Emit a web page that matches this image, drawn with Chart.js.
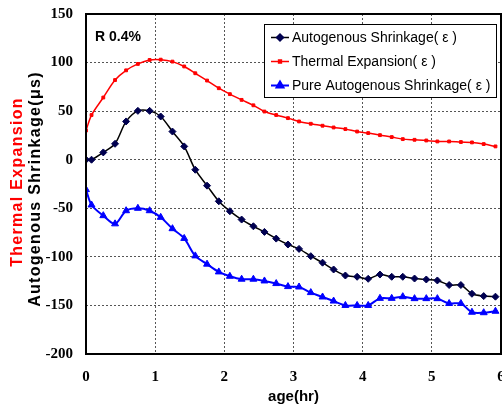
<!DOCTYPE html>
<html><head><meta charset="utf-8">
<script src="https://cdn.jsdelivr.net/npm/chart.js@4.4.1/dist/chart.umd.min.js"></script>
<style>html,body{margin:0;padding:0;background:#fff;overflow:hidden}#wrap{width:502px;height:410px}</style>
</head><body><div id="wrap"><canvas id="c" width="502" height="410"></canvas></div>
<script>
const ages = [0, 0.08, 0.25, 0.42, 0.58, 0.75, 0.92, 1.08, 1.25, 1.42, 1.58, 1.75, 1.92, 2.08, 2.25, 2.42, 2.58, 2.75, 2.92, 3.08, 3.25, 3.42, 3.58, 3.75, 3.92, 4.08, 4.25, 4.42, 4.58, 4.75, 4.92, 5.08, 5.25, 5.42, 5.58, 5.75, 5.92];
const autogenous = [0, 0, 7.5, 16.4, 39.4, 50.3, 50.3, 44.5, 29, 13.7, -10.3, -26.7, -42.8, -53, -61.6, -68.5, -74.3, -81.2, -87.3, -91.8, -99.3, -106, -113, -119.2, -120.5, -122.6, -118.2, -120.5, -120.5, -122.3, -123.3, -124.3, -129, -129, -138, -140.4, -141];
const thermal = [30, 46, 64, 82, 92, 98.6, 102.7, 103, 101, 96, 89, 81.5, 73.6, 67.5, 61.6, 56, 49.6, 46, 42.8, 39.4, 37, 35, 33.2, 31.5, 29, 27.4, 25.3, 23.3, 21.2, 20.5, 19.8, 18.8, 18.8, 18.2, 17.8, 16.1, 13.7];
const pure = [-30.8, -46.6, -57.6, -66, -52.5, -50, -52.5, -59.3, -71, -81, -99, -107.5, -115.5, -120, -123, -123, -124.8, -127.5, -130.6, -131, -136.8, -141.3, -145.5, -150, -150, -150, -142.7, -142.7, -141, -143, -143, -143, -148, -148, -157, -157.5, -156];
const xTicks = [0, 1, 2, 3, 4, 5, 6];
const yTicks = [-200, -150, -100, -50, 0, 50, 100, 150];
const seriesLabels = ['Autogenous Shrinkage( \u03B5 )', 'Thermal Expansion( \u03B5 )', 'Pure Autogenous Shrinkage( \u03B5 )'];
const yTitleRed = 'Thermal Expansion';
const yTitleBlack = 'Autogenous Shrinkage(\u03BCs)';
const xTitle = 'age(hr)';
const note = 'R 0.4%';

const toPts = arr => ages.map((x, i) => ({x: x, y: arr[i]}));
const tickFont = {family: "'Liberation Sans Narrow', 'Liberation Serif', serif", size: 15, weight: 'bold'};

const styles = [
  {line: '#000000', point: '#000050', style: 'rectRot', r: 3.5, w: 1.5},
  {line: '#ff0000', point: '#ff0000', style: 'rect', r: 2, w: 1.5},
  {line: '#0000ff', point: '#0000ff', style: 'triangle', r: 4, w: 2}
];
const series = [autogenous, thermal, pure];

const decor = {
  id: 'decor',
  afterDatasetsDraw(chart) {
    const ctx = chart.ctx, a = chart.chartArea;
    ctx.save();
    ctx.strokeStyle = '#000'; ctx.lineWidth = 2; ctx.setLineDash([]);
    ctx.strokeRect(a.left, a.top, a.right - a.left, a.bottom - a.top);
    ctx.fillStyle = '#000';
    ctx.font = "bold 14px 'Liberation Sans', Arial, sans-serif";
    ctx.textAlign = 'left'; ctx.textBaseline = 'middle';
    ctx.fillText(note, 95, 37);
    const bx = 264, by = 24, bw = 232, bh = 73;
    ctx.fillStyle = '#fff'; ctx.fillRect(bx, by, bw, bh);
    ctx.strokeStyle = '#000'; ctx.lineWidth = 1;
    ctx.strokeRect(bx + 0.5, by + 0.5, bw, bh);
    const rows = [37.5, 61.5, 85.5];
    chart.data.datasets.forEach((ds, i) => {
      const y = rows[i];
      const s = styles[i];
      ctx.strokeStyle = s.line; ctx.lineWidth = s.w;
      ctx.beginPath(); ctx.moveTo(271, y); ctx.lineTo(289, y); ctx.stroke();
      ctx.fillStyle = s.point; ctx.strokeStyle = s.point;
      Chart.helpers.drawPoint(ctx, {pointStyle: s.style, radius: s.r, borderWidth: 1, rotation: 0}, 280, y);
      ctx.fillStyle = '#000';
      ctx.font = "14px 'Liberation Sans', Arial, sans-serif";
      ctx.textAlign = 'left'; ctx.textBaseline = 'middle';
      ctx.fillText(ds.label, 292, y + 1);
    });
    const cy = (a.top + a.bottom) / 2;
    ctx.font = "bold 16px 'Liberation Sans', Arial, sans-serif";
    ctx.textAlign = 'center'; ctx.textBaseline = 'middle';
    ctx.save(); ctx.translate(18, cy - 2); ctx.rotate(-Math.PI / 2);
    ctx.letterSpacing = '1.3px';
    ctx.fillStyle = '#ff0000'; ctx.fillText(yTitleRed, 0, 0); ctx.restore();
    ctx.save(); ctx.translate(36, cy + 5); ctx.rotate(-Math.PI / 2);
    ctx.letterSpacing = '1.3px';
    ctx.fillStyle = '#000'; ctx.fillText(yTitleBlack, 0, 0); ctx.restore();
    ctx.restore();
  }
};

new Chart(document.getElementById('c'), {
  type: 'line',
  data: {
    datasets: series.map((arr, i) => ({
      label: seriesLabels[i],
      data: toPts(arr),
      borderColor: styles[i].line,
      borderWidth: styles[i].w,
      pointStyle: styles[i].style,
      pointRadius: styles[i].r,
      pointBackgroundColor: styles[i].point,
      pointBorderColor: styles[i].point,
      pointBorderWidth: 1,
      tension: 0.3,
      fill: false
    }))
  },
  options: {
    responsive: false,
    devicePixelRatio: 1,
    animation: false,
    layout: {autoPadding: false, padding: {top: 14, right: 1, left: 0, bottom: 0}},
    plugins: {legend: {display: false}, tooltip: {enabled: false}},
    scales: {
      x: {
        type: 'linear', min: 0, max: 6,
        afterFit: s => { s.height = 56; s.paddingLeft = 0; s.paddingRight = 0; },
        afterBuildTicks: s => { s.ticks = xTicks.map(v => ({value: v})); },
        ticks: {color: '#000', font: tickFont, padding: 14},
        grid: {color: '#555', lineWidth: 1, drawTicks: false},
        border: {display: false, dash: [2, 2]},
        title: {display: true, text: xTitle, color: '#000', font: {family: "'Liberation Sans', Arial, sans-serif", size: 15, weight: 'bold'}, padding: {top: 0, bottom: 4}}
      },
      y: {
        type: 'linear', min: -200, max: 150,
        afterFit: s => { s.width = 86; s.paddingTop = 0; s.paddingBottom = 0; },
        afterBuildTicks: s => { s.ticks = yTicks.map(v => ({value: v})); },
        ticks: {color: '#000', font: tickFont, padding: 13},
        grid: {color: '#555', lineWidth: 1, drawTicks: false},
        border: {display: false, dash: [2, 2]}
      }
    }
  },
  plugins: [decor]
});
</script></body></html>
